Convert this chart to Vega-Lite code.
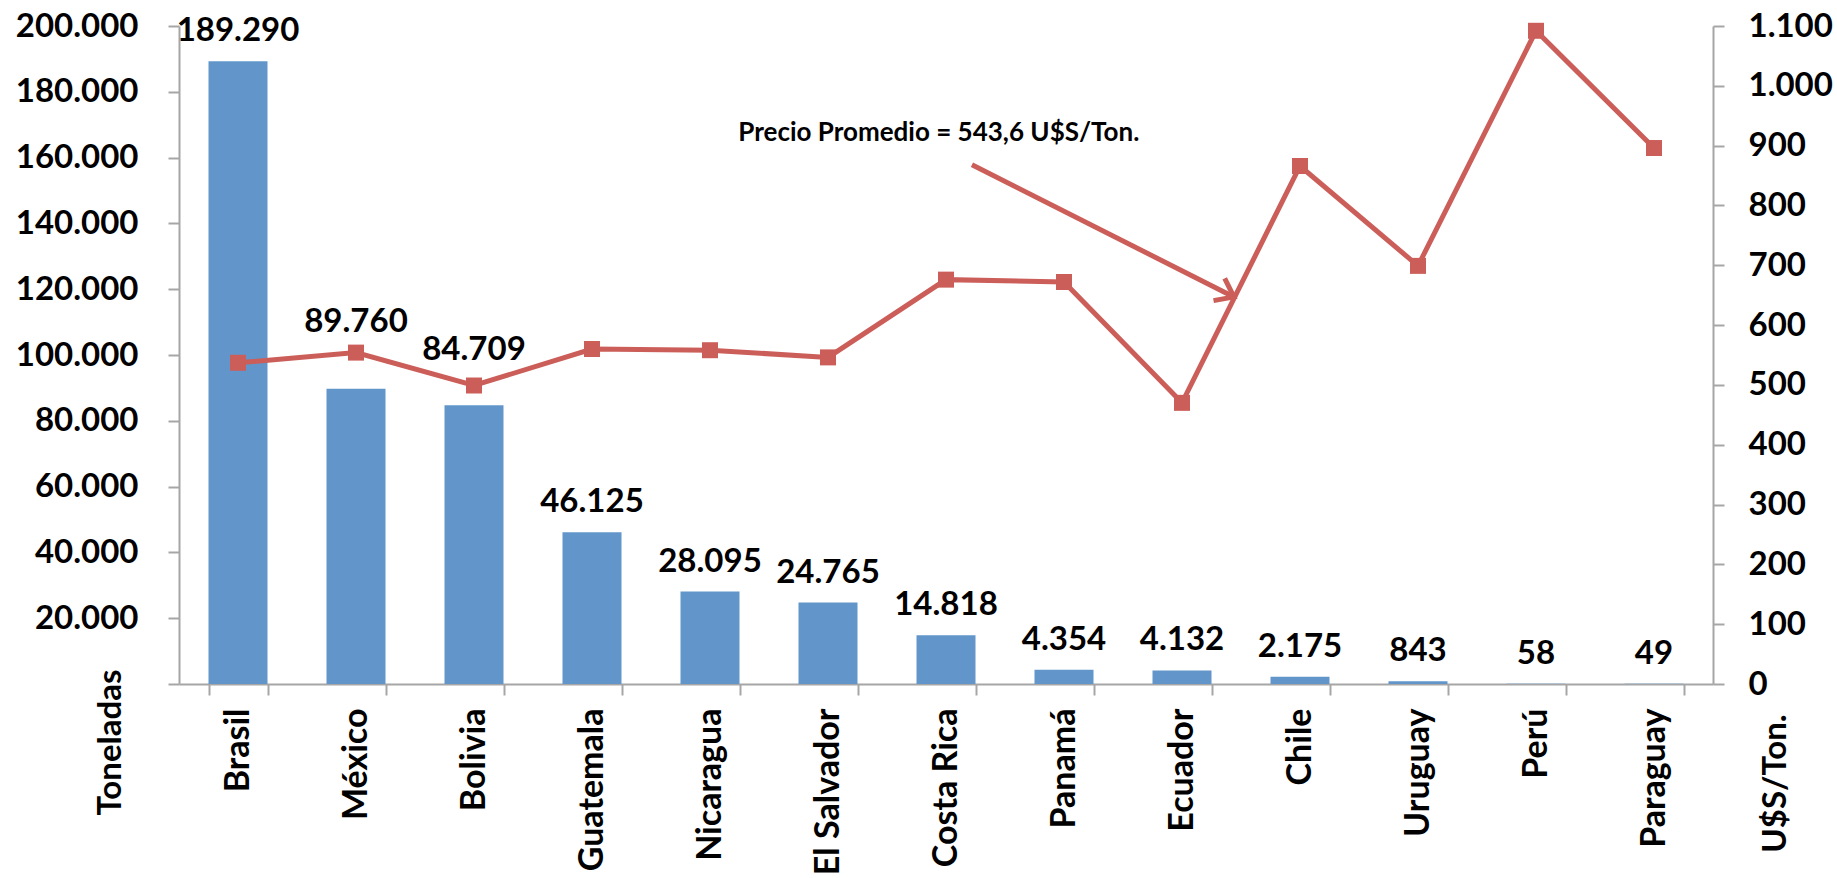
{
  "$schema": "https://vega.github.io/schema/vega-lite/v6.json",
  "width": 1534,
  "height": 658,
  "autosize": "none",
  "padding": {"left": 179, "top": 26, "right": 124, "bottom": 194},
  "background": "white",
  "config": {
    "view": {"stroke": null},
    "font": "Lato",
    "locale": {"number": {"decimal": ",", "thousands": ".", "grouping": [3], "currency": ["$", ""]}}
  },
  "datasets": {
    "paises": [
      {"pais": "Brasil", "toneladas": 189290, "precio": 537},
      {"pais": "México", "toneladas": 89760, "precio": 554},
      {"pais": "Bolivia", "toneladas": 84709, "precio": 499},
      {"pais": "Guatemala", "toneladas": 46125, "precio": 560},
      {"pais": "Nicaragua", "toneladas": 28095, "precio": 558},
      {"pais": "El Salvador", "toneladas": 24765, "precio": 546},
      {"pais": "Costa Rica", "toneladas": 14818, "precio": 676},
      {"pais": "Panamá", "toneladas": 4354, "precio": 672},
      {"pais": "Ecuador", "toneladas": 4132, "precio": 470},
      {"pais": "Chile", "toneladas": 2175, "precio": 866},
      {"pais": "Uruguay", "toneladas": 843, "precio": 699},
      {"pais": "Perú", "toneladas": 58, "precio": 1092},
      {"pais": "Paraguay", "toneladas": 49, "precio": 896}
    ],
    "nota": [
      {"texto": "Precio Promedio = 543,6 U$S/Ton.", "ix": 4.74, "py": 908, "ax1": 6.72, "ay1": 868, "ax2": 8.94, "ay2": 647}
    ]
  },
  "resolve": {"scale": {"x": "independent", "y": "independent"}, "axis": {"x": "independent", "y": "independent"}},
  "layer": [
    {
      "data": {"name": "paises"},
      "mark": {"type": "bar", "color": "#6296CA"},
      "encoding": {
        "x": {
          "field": "pais", "type": "nominal", "sort": null,
          "scale": {"paddingInner": 0.5, "paddingOuter": 0.25},
          "axis": {
            "title": null, "labelAngle": -90, "labelAlign": "right", "labelBaseline": "middle",
            "labelFontSize": 34, "labelFontWeight": "bold", "labelColor": "#000000", "labelFont": "Lato",
            "labelPadding": 13, "labelLimit": 500, "labelOverlap": false,
            "tickBand": "extent", "tickSize": 11, "tickWidth": 2, "tickColor": "#A6A6A6",
            "domainColor": "#A6A6A6", "domainWidth": 2, "grid": false
          }
        },
        "y": {
          "field": "toneladas", "type": "quantitative",
          "scale": {"domain": [0, 200000], "nice": false, "zero": true},
          "axis": {
            "orient": "left", "values": [0, 20000, 40000, 60000, 80000, 100000, 120000, 140000, 160000, 180000, 200000],
            "format": ",.0f", "labelExpr": "datum.value === 0 ? '' : datum.label",
            "labelFontSize": 33, "labelFontWeight": "bold", "labelColor": "#000000", "labelFont": "Lato",
            "labelPadding": 30, "tickSize": 11, "tickWidth": 2, "tickColor": "#A6A6A6",
            "domainColor": "#A6A6A6", "domainWidth": 2, "grid": false,
            "title": "Toneladas", "titleFontSize": 33, "titleFontWeight": "bold", "titleColor": "#000000", "titleFont": "Lato",
            "titleAngle": -90, "titleAlign": "center", "titleBaseline": "middle", "titleX": -69, "titleY": 716
          }
        }
      }
    },
    {
      "data": {"name": "paises"},
      "transform": [{"filter": "datum.pais !== 'México' && datum.pais !== 'Bolivia'"}],
      "mark": {"type": "text", "font": "Lato", "fontSize": 33, "fontWeight": "bold", "color": "#000000", "align": "center", "baseline": "alphabetic", "dy": -20},
      "encoding": {
        "x": {"field": "pais", "type": "nominal", "scale": {"domain": ["Brasil", "México", "Bolivia", "Guatemala", "Nicaragua", "El Salvador", "Costa Rica", "Panamá", "Ecuador", "Chile", "Uruguay", "Perú", "Paraguay"], "paddingInner": 0.5, "paddingOuter": 0.25}, "axis": null},
        "y": {"field": "toneladas", "type": "quantitative", "scale": {"domain": [0, 200000], "nice": false}, "axis": null},
        "text": {"field": "toneladas", "type": "quantitative", "format": ",.0f"}
      }
    },
    {
      "data": {"name": "paises"},
      "transform": [{"filter": "datum.pais === 'México'"}],
      "mark": {"type": "text", "font": "Lato", "fontSize": 33, "fontWeight": "bold", "color": "#000000", "align": "center", "baseline": "alphabetic", "dy": -57},
      "encoding": {
        "x": {"field": "pais", "type": "nominal", "scale": {"domain": ["Brasil", "México", "Bolivia", "Guatemala", "Nicaragua", "El Salvador", "Costa Rica", "Panamá", "Ecuador", "Chile", "Uruguay", "Perú", "Paraguay"], "paddingInner": 0.5, "paddingOuter": 0.25}, "axis": null},
        "y": {"field": "toneladas", "type": "quantitative", "scale": {"domain": [0, 200000], "nice": false}, "axis": null},
        "text": {"field": "toneladas", "type": "quantitative", "format": ",.0f"}
      }
    },
    {
      "data": {"name": "paises"},
      "transform": [{"filter": "datum.pais === 'Bolivia'"}],
      "mark": {"type": "text", "font": "Lato", "fontSize": 33, "fontWeight": "bold", "color": "#000000", "align": "center", "baseline": "alphabetic", "dy": -45},
      "encoding": {
        "x": {"field": "pais", "type": "nominal", "scale": {"domain": ["Brasil", "México", "Bolivia", "Guatemala", "Nicaragua", "El Salvador", "Costa Rica", "Panamá", "Ecuador", "Chile", "Uruguay", "Perú", "Paraguay"], "paddingInner": 0.5, "paddingOuter": 0.25}, "axis": null},
        "y": {"field": "toneladas", "type": "quantitative", "scale": {"domain": [0, 200000], "nice": false}, "axis": null},
        "text": {"field": "toneladas", "type": "quantitative", "format": ",.0f"}
      }
    },
    {
      "data": {"name": "paises"},
      "mark": {"type": "line", "color": "#CC5E59", "strokeWidth": 5, "point": {"shape": "square", "size": 256, "filled": true, "color": "#CC5E59", "opacity": 1}},
      "encoding": {
        "x": {"field": "pais", "type": "nominal", "sort": null, "scale": {"type": "point", "padding": 0.5}, "axis": null},
        "y": {
          "field": "precio", "type": "quantitative",
          "scale": {"domain": [0, 1100], "nice": false},
          "axis": {
            "orient": "right", "values": [0, 100, 200, 300, 400, 500, 600, 700, 800, 900, 1000, 1100], "format": ",.0f",
            "labelFontSize": 33, "labelFontWeight": "bold", "labelColor": "#000000", "labelFont": "Lato",
            "labelPadding": 24, "tickSize": 11, "tickWidth": 2, "tickColor": "#A6A6A6",
            "domainColor": "#A6A6A6", "domainWidth": 2, "grid": false,
            "title": "U$S/Ton.", "titleFontSize": 33, "titleFontWeight": "bold", "titleColor": "#000000", "titleFont": "Lato",
            "titleAngle": -90, "titleAlign": "center", "titleBaseline": "middle", "titleX": 62, "titleY": 757
          }
        }
      }
    },
    {
      "data": {"name": "nota"},
      "mark": {"type": "text", "font": "Lato", "fontSize": 26, "fontWeight": "bold", "color": "#000000", "align": "left", "baseline": "alphabetic"},
      "encoding": {
        "x": {"field": "ix", "type": "quantitative", "scale": {"domain": [0, 13], "nice": false, "zero": false}, "axis": null},
        "y": {"field": "py", "type": "quantitative", "scale": {"domain": [0, 1100], "nice": false}, "axis": null},
        "text": {"field": "texto", "type": "nominal"}
      }
    },
    {
      "data": {"name": "nota"},
      "mark": {"type": "rule", "color": "#CC5E59", "strokeWidth": 5},
      "encoding": {
        "x": {"field": "ax1", "type": "quantitative", "scale": {"domain": [0, 13], "nice": false, "zero": false}, "axis": null},
        "x2": {"field": "ax2"},
        "y": {"field": "ay1", "type": "quantitative", "scale": {"domain": [0, 1100], "nice": false}, "axis": null},
        "y2": {"field": "ay2"}
      }
    },
    {
      "data": {"name": "nota"},
      "mark": {"type": "point", "shape": "M-1,-0.75L0,0L-1,0.75", "filled": false, "stroke": "#CC5E59", "strokeWidth": 5, "size": 1100, "angle": 26.7, "opacity": 1, "strokeJoin": "miter"},
      "encoding": {
        "x": {"field": "ax2", "type": "quantitative", "scale": {"domain": [0, 13], "nice": false, "zero": false}, "axis": null},
        "y": {"field": "ay2", "type": "quantitative", "scale": {"domain": [0, 1100], "nice": false}, "axis": null}
      }
    }
  ]
}
